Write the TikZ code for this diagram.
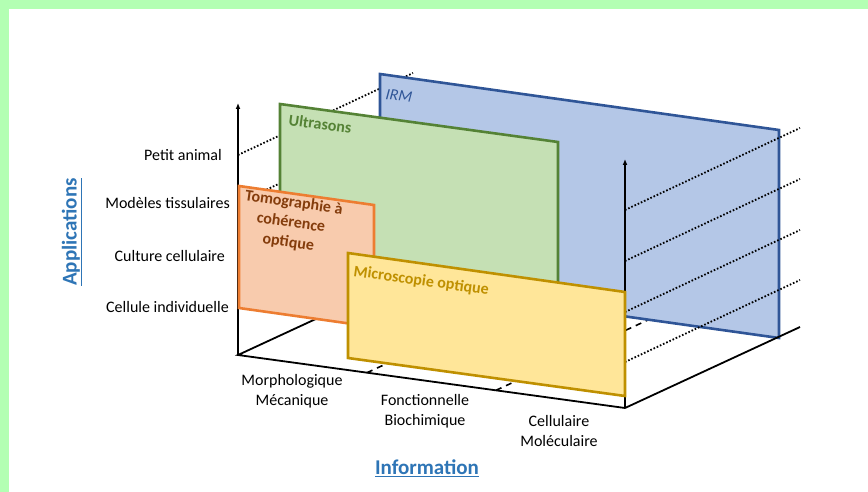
\documentclass[tikz,border=0pt]{standalone}
\usepackage{fontspec}
\setmainfont{Carlito}
\usepackage{tikz}
\usetikzlibrary{arrows.meta}

\definecolor{fondvert}{HTML}{B3FFB3}
\definecolor{titrebleu}{HTML}{2E75B6}
\definecolor{irmfond}{HTML}{B4C7E7}
\definecolor{irmbord}{HTML}{2F5597}
\definecolor{usfond}{HTML}{C5E0B4}
\definecolor{usbord}{HTML}{548235}
\definecolor{octfond}{HTML}{F8CBAD}
\definecolor{octbord}{HTML}{ED7D31}
\definecolor{octtexte}{HTML}{843C0C}
\definecolor{microfond}{HTML}{FFE699}
\definecolor{microbord}{HTML}{BF9000}

\begin{document}
\begin{tikzpicture}[x=1pt,y=-1pt,
  every node/.style={font=\fontsize{16}{19.5}\selectfont, inner sep=0pt},
  plan/.style={line width=2.6pt, line join=miter},
  axe/.style={line width=1.8pt},
  pointille/.style={line width=1.8pt, dash pattern=on 1.6pt off 1.9pt},
  tirets/.style={line width=1.6pt, dash pattern=on 6pt off 5pt},
  titre/.style={font=\fontsize{21}{25}\selectfont\bfseries, text=titrebleu},
  etiq/.style={font=\fontsize{16}{20}\selectfont\bfseries, rotate=-8}]

\fill[fondvert] (0,0) rectangle (868,492);
\fill[white] (9,9) rectangle (868,492);
\useasboundingbox (0,0) rectangle (868,492);

\coordinate (o) at (238,355);
\coordinate (ox) at (625,408);
\coordinate (oz) at (413,274);
\coordinate (xz) at (800,327);
\coordinate (ohaut) at (238,103);
\coordinate (xhaut) at (625,159);

% axes et lignes cachees
\draw[axe,-{Latex[length=6pt,width=5pt]}] (o) -- (ohaut);
\draw[axe] (oz) -- (o) -- (ox);
\foreach \y [count=\i] in {155,203,255,305}
  \draw[pointille] (238,\y) coordinate (g\i) -- ++(175,-82) coordinate (gf\i);
\draw[tirets] (367,372.7) coordinate (t1) -- ++(175,-81);
\draw[tirets] (496,390.3) coordinate (t2) -- ++(175,-81);

% IRM
\draw[plan, draw=irmbord, fill=irmfond] (380,74) coordinate (irm1) -- (779,130) -- (779,338) -- (380,282) -- cycle;
\draw (385,99) node[anchor=base west, rotate=-8, text=irmbord, font=\fontsize{16}{19.5}\selectfont\itshape] (irm) {IRM};

% cote droit
\draw[axe,-{Latex[length=6pt,width=5pt]}] (ox) -- (xhaut);
\draw[axe] (ox) -- (xz);
\foreach \y [count=\i] in {210,261,312,362}
  \draw[pointille] (625,\y) coordinate (d\i) -- ++(175,-82) coordinate (df\i);

% Ultrasons
\draw[plan, draw=usbord, fill=usfond] (280,104) -- (558,142) -- (558,340) -- (280,302) -- cycle;
\draw (288,125) node[etiq, anchor=base west, text=usbord] (us) {Ultrasons};

% OCT
\draw[plan, draw=octbord, fill=octfond] (239,186) -- (374,205) -- (374,327) -- (239,308) -- cycle;
\draw (291,223) node[etiq, align=center, text=octtexte] (oct) {Tomographie à\\cohérence\\optique};

% Microscopie
\draw[plan, draw=microbord, fill=microfond] (348,253) -- (625,292) -- (625,396) -- (348,358) -- cycle;
\draw (353,276) node[etiq, anchor=base west, text=microbord] (micro) {Microscopie optique};

% applications
\draw (222,155) node[anchor=east] (petit) {Petit animal};
\draw (230,203) node[anchor=east] (modeles) {Modèles tissulaires};
\draw (225,256) node[anchor=east] (culture) {Culture cellulaire};
\draw (229,307) node[anchor=east] (cellule) {Cellule individuelle};
\draw (72,232) node[titre, rotate=90] (appli) {\underline{Applications}};

% information
\draw (292,391) node[align=center] (morpho) {Morphologique\\Mécanique};
\draw (425,411) node[align=center] (fonct) {Fonctionnelle\\Biochimique};
\draw (559,431) node[align=center] (cellul) {Cellulaire\\Moléculaire};
\draw (427,468) node[titre] (info) {\underline{Information}};

\end{tikzpicture}
\end{document}
